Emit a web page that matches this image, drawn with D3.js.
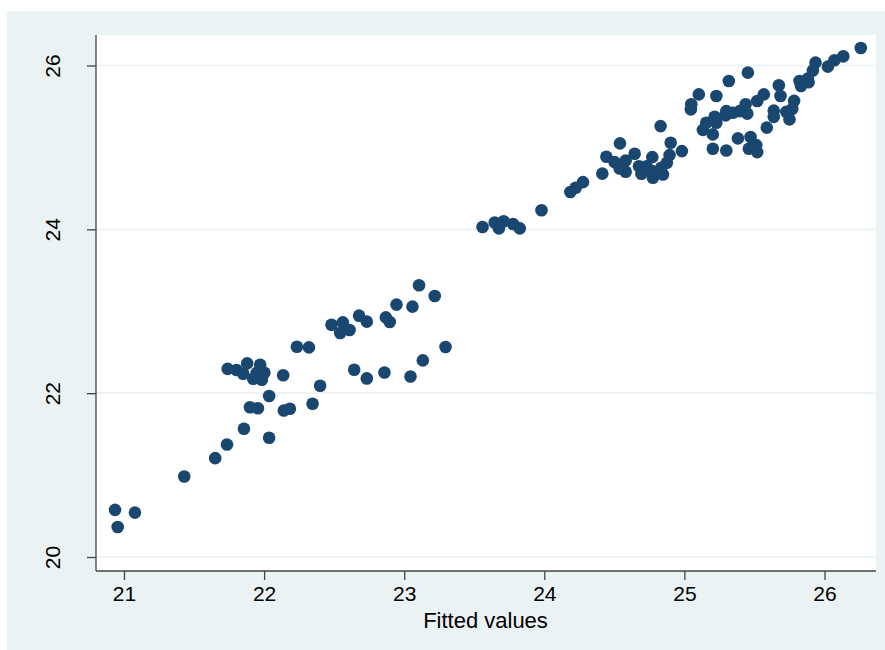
<!DOCTYPE html>
<html>
<head>
<meta charset="utf-8">
<script src="https://cdn.jsdelivr.net/npm/d3@7"></script>
<style>
  body { margin: 0; background: #fff; }
  text { font-family: 'Liberation Sans', Arial, sans-serif; fill: #000; }
</style>
</head>
<body>
<div id="chart"></div>
<script>
const fitted = [
  20.936, 20.955, 21.078, 21.430, 21.651, 21.735, 21.856, 22.036, 21.899, 21.956,
  22.036, 22.141, 22.184, 22.346, 22.400, 21.740, 21.804, 21.851, 21.879, 21.922,
  21.947, 21.972, 21.984, 22.002, 21.956, 22.136, 22.234, 22.320, 22.481, 22.562,
  22.543, 22.610, 22.678, 22.733, 22.869, 22.897, 22.945, 23.059, 23.106, 23.218,
  22.643, 22.733, 22.859, 23.045, 23.133, 23.295,
  23.559, 23.646, 23.676, 23.710, 23.777, 23.825, 23.980, 24.186, 24.224, 24.276,
  24.414,
  24.443, 24.502, 24.540, 24.581, 24.538, 24.581, 24.645, 24.676, 24.693, 24.771,
  24.771, 24.775, 24.835, 24.847, 24.875, 24.894, 24.830, 24.902, 24.982, 24.730,
  25.049, 25.046, 25.103, 25.228, 25.317, 25.453, 25.132, 25.156, 25.228, 25.216,
  25.203, 25.203, 25.299, 25.299, 25.294, 25.346, 25.394, 25.437, 25.449, 25.382,
  25.472, 25.513, 25.460, 25.520, 25.520, 25.567, 25.588, 25.638, 25.638, 25.674,
  25.686, 25.727, 25.750, 25.770, 25.783, 25.822, 25.832, 25.886, 25.881, 25.917,
  25.936, 26.024, 26.071, 26.134, 26.259
];
const observed = [
  20.575, 20.367, 20.542, 20.982, 21.207, 21.373, 21.565, 21.455, 21.828, 21.815,
  21.965, 21.789, 21.809, 21.870, 22.090, 22.296, 22.282, 22.237, 22.364, 22.176,
  22.246, 22.347, 22.164, 22.249, 22.200, 22.219, 22.567, 22.559, 22.836, 22.864,
  22.735, 22.771, 22.946, 22.873, 22.925, 22.869, 23.081, 23.056, 23.317, 23.187,
  22.286, 22.180, 22.253, 22.204, 22.400, 22.564,
  24.028, 24.083, 24.012, 24.099, 24.065, 24.012, 24.233, 24.456, 24.507, 24.576,
  24.680,
  24.886, 24.820, 25.049, 24.841, 24.743, 24.703, 24.923, 24.771, 24.678, 24.881,
  24.710, 24.629, 24.752, 24.670, 24.813, 24.906, 25.260, 25.057, 24.955, 24.768,
  25.526, 25.465, 25.648, 25.627, 25.810, 25.913, 25.214, 25.302, 25.302, 25.375,
  25.159, 24.984, 24.963, 25.443, 25.391, 25.424, 25.443, 25.526, 25.412, 25.110,
  25.128, 25.028, 24.984, 24.943, 25.566, 25.648, 25.242, 25.449, 25.373, 25.758,
  25.627, 25.434, 25.342, 25.471, 25.568, 25.811, 25.750, 25.795, 25.840, 25.938,
  26.035, 25.986, 26.064, 26.112, 26.214
];
const xTicks = [21, 22, 23, 24, 25, 26];
const yTicks = [20, 22, 24, 26];
const xTitle = 'Fitted values';

const width = 885, height = 650;
const plot = { left: 96, right: 876, top: 35, bottom: 571 };

const svg = d3.select('#chart')
  .append('svg')
  .attr('width', width)
  .attr('height', height);

// graph region
svg.append('rect')
  .attr('x', 7).attr('y', 11)
  .attr('width', width - 7).attr('height', height - 11)
  .attr('fill', '#eaf2f3');

// plot region
svg.append('rect')
  .attr('x', plot.left).attr('y', plot.top)
  .attr('width', plot.right - plot.left).attr('height', plot.bottom - plot.top)
  .attr('fill', '#fff');

const x = d3.scaleLinear().domain([21, 26]).range([124, 824.5]);
const y = d3.scaleLinear().domain([20, 26]).range([557, 65.5]);

// gridlines
svg.append('g')
  .selectAll('line')
  .data(yTicks)
  .enter()
  .append('line')
  .attr('x1', plot.left).attr('x2', plot.right)
  .attr('y1', d => y(d)).attr('y2', d => y(d))
  .attr('stroke', '#eaf2f3')
  .attr('stroke-width', 1.6);

// points
svg.append('g')
  .selectAll('circle')
  .data(fitted.map((d, i) => ({ x: d, y: observed[i] })))
  .enter()
  .append('circle')
  .attr('cx', d => x(d.x))
  .attr('cy', d => y(d.y))
  .attr('r', 6.3)
  .attr('fill', '#1a476f');

// x axis
const xAxis = svg.append('g')
  .attr('transform', 'translate(0,' + plot.bottom + ')')
  .call(d3.axisBottom(x).tickValues(xTicks).tickSize(9).tickPadding(6).tickFormat(d3.format('d')));
xAxis.select('.domain').attr('d', 'M' + plot.left + ',0H' + plot.right);
xAxis.selectAll('line, .domain').attr('stroke', '#444').attr('stroke-width', 1.3);
xAxis.selectAll('text').attr('font-size', '21px').attr('fill', '#000')
  .attr('font-family', "'Liberation Sans', Arial, sans-serif");

// y axis
const yAxis = svg.append('g')
  .attr('transform', 'translate(' + plot.left + ',0)')
  .call(d3.axisLeft(y).tickValues(yTicks).tickSize(9).tickFormat(d3.format('d')));
yAxis.select('.domain').attr('d', 'M0,' + plot.top + 'V' + plot.bottom);
yAxis.selectAll('line, .domain').attr('stroke', '#444').attr('stroke-width', 1.3);
yAxis.selectAll('text')
  .attr('font-size', '21px').attr('fill', '#000')
  .attr('font-family', "'Liberation Sans', Arial, sans-serif")
  .attr('x', null).attr('dy', null)
  .attr('text-anchor', 'middle')
  .attr('transform', 'translate(-36,0) rotate(-90)');

// axis title
svg.append('text')
  .attr('x', 485.5)
  .attr('y', 627.5)
  .attr('text-anchor', 'middle')
  .attr('font-size', '22px')
  .text(xTitle);
</script>
</body>
</html>
